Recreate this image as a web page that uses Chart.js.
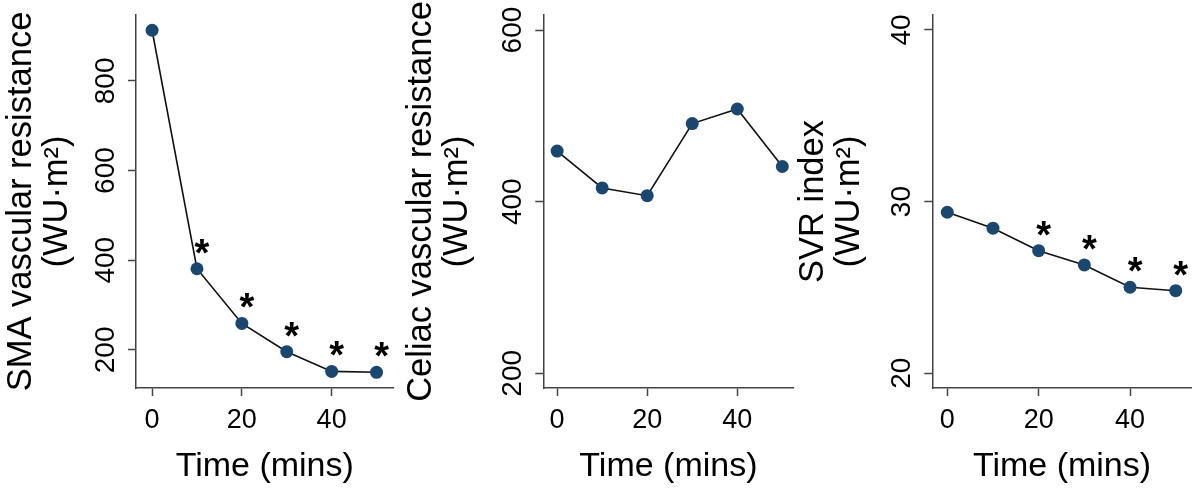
<!DOCTYPE html>
<html>
<head>
<meta charset="utf-8">
<script src="https://cdn.jsdelivr.net/npm/chart.js@4"></script>
<style>
  body { margin: 0; background: #fff; }
  .panel { position: absolute; top: 0; }
</style>
</head>
<body>
<canvas id="sma" class="panel" width="400" height="496" style="left:0px"></canvas>
<canvas id="celiac" class="panel" width="400" height="496" style="left:400px"></canvas>
<canvas id="svr" class="panel" width="410" height="496" style="left:790px"></canvas>
<script>
const times = [0, 10, 20, 30, 40, 50];
const smaValues = [913, 381, 259, 196, 152, 150];
const celiacValues = [459, 416, 407, 491, 508, 441];
const svrValues = [29.38, 28.45, 27.14, 26.31, 25.01, 24.81];
const smaSig = [false, true, true, true, true, true];
const celiacSig = [false, false, false, false, false, false];
const svrSig = [false, false, true, true, true, true];
const xTicks = [0, 20, 40];
const smaTicks = [200, 400, 600, 800];
const celiacTicks = [200, 400, 600];
const svrTicks = [20, 30, 40];

const FONT = '"Liberation Sans", Arial, Helvetica, sans-serif';
const AXIS = '#444';
const TEXT = '#000';
Chart.defaults.font.family = FONT;

// rotated y tick labels (Stata style) and significance asterisks
const axisExtras = {
    id: 'axisExtras',
    afterDraw(chart, args, opts) {
        const ctx = chart.ctx;
        const y = chart.scales.y;
        ctx.save();
        ctx.fillStyle = TEXT;
        ctx.font = '28px ' + FONT;
        ctx.textAlign = 'center';
        ctx.textBaseline = 'alphabetic';
        y.ticks.forEach(t => {
            ctx.save();
            ctx.translate(y.right - 22, y.getPixelForValue(t.value));
            ctx.rotate(-Math.PI / 2);
            ctx.fillText(String(t.value), 0, 0);
            ctx.restore();
        });
        const meta = chart.getDatasetMeta(0);
        ctx.font = 'bold 38px ' + FONT;
        opts.sig.forEach((s, i) => {
            if (!s) return;
            const p = meta.data[i];
            ctx.fillText('*', p.x + 5, p.y - 25 + 0.58 * 38);
        });
        ctx.restore();
    }
};

function makePanel(id, cfg) {
    const tickStyle = { drawOnChartArea: false, drawTicks: true, tickLength: 8, tickColor: AXIS, tickWidth: 1.5 };
    new Chart(document.getElementById(id), {
        type: 'line',
        data: {
            datasets: [{
                data: times.map((t, i) => ({ x: t, y: cfg.values[i] })),
                borderColor: '#111',
                borderWidth: 1.6,
                pointBackgroundColor: '#1a476f',
                pointBorderWidth: 0,
                pointRadius: 6.5,
                tension: 0
            }]
        },
        options: {
            responsive: false,
            animation: false,
            layout: { padding: { left: cfg.padLeft, top: 15, right: cfg.padRight, bottom: 0 } },
            scales: {
                x: {
                    type: 'linear',
                    min: cfg.xMin,
                    max: cfg.xMax,
                    afterBuildTicks: s => { s.ticks = xTicks.map(v => ({ value: v })); },
                    afterFit: s => { s.height = 108; },
                    ticks: { font: { size: 27 }, color: TEXT, padding: 8 },
                    grid: tickStyle,
                    border: { display: true, color: AXIS, width: 1.5 },
                    title: { display: true, text: 'Time (mins)', color: TEXT, font: { size: 34 }, padding: { top: 0, bottom: 9 } }
                },
                y: {
                    type: 'linear',
                    min: cfg.yMin,
                    max: cfg.yMax,
                    afterBuildTicks: s => { s.ticks = cfg.ticks.map(v => ({ value: v })); },
                    afterFit: s => { s.width = cfg.yWidth; },
                    ticks: { display: false },
                    grid: tickStyle,
                    border: { display: true, color: AXIS, width: 1.5 },
                    title: { display: true, text: [cfg.title, '(WU·m²)'], color: TEXT, font: { size: 34.5, lineHeight: 1.03 }, padding: 0 }
                }
            },
            plugins: {
                legend: { display: false },
                tooltip: { enabled: false },
                axisExtras: { sig: cfg.sig }
            }
        },
        plugins: [axisExtras]
    });
}

makePanel('sma', {
    values: smaValues, sig: smaSig, ticks: smaTicks, title: 'SMA vascular resistance',
    xMin: -3.58, xMax: 53.78, yMin: 115, yMax: 947, padLeft: 4, padRight: 3, yWidth: 132
});
makePanel('celiac', {
    values: celiacValues, sig: celiacSig, ticks: celiacTicks, title: 'Celiac vascular resistance',
    xMin: -3.07, xMax: 52.48, yMin: 182.9, yMax: 617.5, padLeft: 4, padRight: 3, yWidth: 139.3
});
makePanel('svr', {
    values: svrValues, sig: svrSig, ticks: svrTicks, title: 'SVR index',
    xMin: -3.28, xMax: 53.5, yMin: 19.14, yMax: 40.87, padLeft: 6, padRight: 8.3, yWidth: 136.3
});
</script>
</body>
</html>
